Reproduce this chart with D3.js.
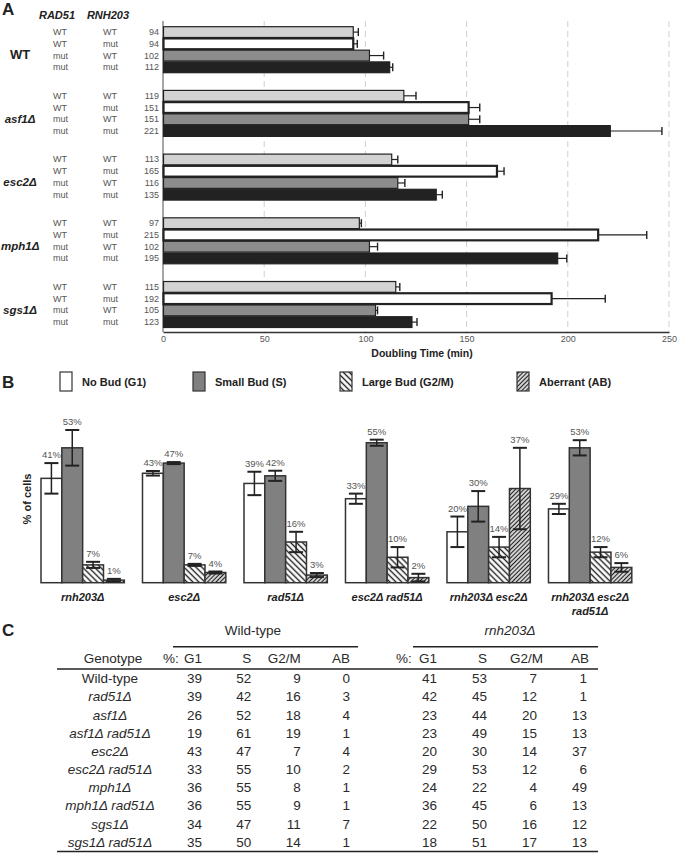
<!DOCTYPE html>
<html>
<head>
<meta charset="utf-8">
<script src="https://cdn.jsdelivr.net/npm/d3@7"></script>
<style>
  body { margin: 0; background: #fff; }
  svg { font-family: "Liberation Sans", Arial, sans-serif; display: block; }
</style>
</head>
<body>
<script>
// ---- panel A data ----
const groupsA = ['WT', 'asf1Δ', 'esc2Δ', 'mph1Δ', 'sgs1Δ'];
const rad51Status = ['WT', 'WT', 'mut', 'mut'];
const rnh203Status = ['WT', 'mut', 'WT', 'mut'];
const doublingTime = [
  [94, 94, 102, 112],
  [119, 151, 151, 221],
  [113, 165, 116, 135],
  [97, 215, 102, 195],
  [115, 192, 105, 123]
];
const doublingErr = [
  [2.5, 2, 7, 1.5],
  [6, 5.5, 5.5, 25.5],
  [3, 3.5, 3.5, 3],
  [1, 24, 4, 4.5],
  [2, 26.5, 1, 2.5]
];
const xTicksA = [0, 50, 100, 150, 200, 250];

// ---- panel B data ----
const strainsB = ['rnh203Δ', 'esc2Δ', 'rad51Δ', 'esc2Δ rad51Δ', 'rnh203Δ esc2Δ', 'rnh203Δ esc2Δ rad51Δ'];
const phases = ['No Bud (G1)', 'Small Bud (S)', 'Large Bud (G2/M)', 'Aberrant (AB)'];
const pctB = [
  [41, 53, 7, 1],
  [43, 47, 7, 4],
  [39, 42, 16, 3],
  [33, 55, 10, 2],
  [20, 30, 14, 37],
  [29, 53, 12, 6]
];
const errB = [
  [6, 7, 1.2, 0.5],
  [0.9, 0.4, 0.4, 0.4],
  [4.6, 2, 4, 0.8],
  [2, 1.2, 4, 1.5],
  [6, 6, 4, 16],
  [2, 3, 2, 1.7]
];

// ---- panel C data ----
const genotypesC = ['Wild-type', 'rad51Δ', 'asf1Δ', 'asf1Δ rad51Δ', 'esc2Δ', 'esc2Δ rad51Δ',
  'mph1Δ', 'mph1Δ rad51Δ', 'sgs1Δ', 'sgs1Δ rad51Δ'];
const phaseCols = ['G1', 'S', 'G2/M', 'AB'];
const wtPct = [
  [39, 52, 9, 0], [39, 42, 16, 3], [26, 52, 18, 4], [19, 61, 19, 1], [43, 47, 7, 4],
  [33, 55, 10, 2], [36, 55, 8, 1], [36, 55, 9, 1], [34, 47, 11, 7], [35, 50, 14, 1]
];
const rnhPct = [
  [41, 53, 7, 1], [42, 45, 12, 1], [23, 44, 20, 13], [23, 49, 15, 13], [20, 30, 14, 37],
  [29, 53, 12, 6], [24, 22, 4, 49], [36, 45, 6, 13], [22, 50, 16, 12], [18, 51, 17, 13]
];

const W = 677, H = 853;
const svg = d3.select('body').append('svg').attr('width', W).attr('height', H);

const defs = svg.append('defs');
function hatch(id, spacing, width, angle) {
  const p = defs.append('pattern').attr('id', id)
    .attr('patternUnits', 'userSpaceOnUse')
    .attr('width', spacing).attr('height', spacing)
    .attr('patternTransform', `rotate(${angle})`);
  p.append('rect').attr('width', spacing).attr('height', spacing).attr('fill', '#fff');
  p.append('line').attr('x1', spacing / 2).attr('x2', spacing / 2)
    .attr('y1', 0).attr('y2', spacing)
    .attr('stroke', '#222').attr('stroke-width', width);
}
hatch('hatchG2', 4.2, 1.4, -45);
hatch('hatchAB', 3, 1.4, 45);

const panelLetter = (t, y) => svg.append('text').attr('x', 2).attr('y', y)
  .attr('font-size', 17).attr('font-weight', 'bold').attr('fill', '#222').text(t);

// ================= Panel A =================
panelLetter('A', 15);

const xA = d3.scaleLinear().domain([0, 250]).range([163, 669]);
const gA = d3.scaleBand().domain(groupsA).range([26.7, 327.5]).paddingInner(0.278).paddingOuter(0);
const rA = d3.scaleBand().domain(d3.range(4)).range([0, gA.bandwidth()]).paddingInner(0.08);
const fillA = ['#d2d2d2', '#ffffff', '#8c8c8c', '#222222'];
const axisY = 332;

svg.append('text').attr('x', 57).attr('y', 19).attr('text-anchor', 'middle')
  .attr('font-size', 11).attr('font-weight', 'bold').attr('font-style', 'italic')
  .attr('fill', '#222').text('RAD51');
svg.append('text').attr('x', 108).attr('y', 19).attr('text-anchor', 'middle')
  .attr('font-size', 11).attr('font-weight', 'bold').attr('font-style', 'italic')
  .attr('fill', '#222').text('RNH203');

// gridlines
svg.append('g').selectAll('line').data(xTicksA.slice(1)).join('line')
  .attr('x1', d => xA(d)).attr('x2', d => xA(d))
  .attr('y1', 21).attr('y2', axisY)
  .attr('stroke', '#cfcfcf').attr('stroke-width', 1).attr('stroke-dasharray', '6,4');

svg.append('line').attr('x1', xA(0)).attr('x2', xA(0)).attr('y1', 21).attr('y2', axisY)
  .attr('stroke', '#8a8a8a').attr('stroke-width', 1.5);

const axA = svg.append('g').attr('transform', `translate(0,${axisY})`)
  .call(d3.axisBottom(xA).tickValues(xTicksA).tickSize(0).tickPadding(4));
axA.select('.domain').attr('stroke', '#333').attr('stroke-width', 1.5);
axA.selectAll('text').attr('font-size', 9).attr('fill', '#555')
  .attr('font-family', '"Liberation Sans", Arial, sans-serif');

svg.append('text').attr('x', 422).attr('y', 357).attr('text-anchor', 'middle')
  .attr('font-size', 10.5).attr('font-weight', 'bold').attr('fill', '#222')
  .text('Doubling Time (min)');

groupsA.forEach((g, gi) => {
  const grp = svg.append('g').attr('transform', `translate(0,${gA(g)})`);
  const rows = doublingTime[gi].map((v, i) => ({ v, i, e: doublingErr[gi][i] }));
  const rc = i => rA(i) + rA.bandwidth() / 2;

  const gl = grp.append('text').attr('y', rc(2) + 3.5)
    .attr('font-size', g === 'WT' ? 13 : 11.5).attr('font-weight', 'bold')
    .attr('font-style', g === 'WT' ? 'normal' : 'italic')
    .attr('fill', '#222').text(g);
  const gw = gl.node().getComputedTextLength();
  gl.attr('x', Math.max(1, 20 - gw / 2));

  grp.selectAll('text.rad').data(rows).join('text').attr('class', 'rad')
    .attr('x', 53).attr('y', d => rc(d.i) + 3)
    .attr('font-size', 9).attr('fill', '#555').text(d => rad51Status[d.i]);
  grp.selectAll('text.rnh').data(rows).join('text').attr('class', 'rnh')
    .attr('x', 103).attr('y', d => rc(d.i) + 3)
    .attr('font-size', 9).attr('fill', '#555').text(d => rnh203Status[d.i]);
  grp.selectAll('text.val').data(rows).join('text').attr('class', 'val')
    .attr('x', 159).attr('y', d => rc(d.i) + 3).attr('text-anchor', 'end')
    .attr('font-size', 9).attr('fill', '#555').text(d => d.v);

  // error bars
  grp.selectAll('line.err').data(rows).join('line').attr('class', 'err')
    .attr('x1', d => xA(d.v)).attr('x2', d => xA(d.v + d.e))
    .attr('y1', d => rc(d.i)).attr('y2', d => rc(d.i))
    .attr('stroke', '#222').attr('stroke-width', 1.2);
  grp.selectAll('line.cap').data(rows).join('line').attr('class', 'cap')
    .attr('x1', d => xA(d.v + d.e)).attr('x2', d => xA(d.v + d.e))
    .attr('y1', d => rc(d.i) - 4).attr('y2', d => rc(d.i) + 4)
    .attr('stroke', '#222').attr('stroke-width', 1.4);

  grp.selectAll('rect').data(rows).join('rect')
    .attr('x', xA(0) + 0.5).attr('y', d => rA(d.i))
    .attr('width', d => xA(d.v) - xA(0) - 0.5).attr('height', rA.bandwidth())
    .attr('fill', d => fillA[d.i])
    .attr('stroke', '#222').attr('stroke-width', d => d.i === 1 ? 2.2 : 1.2);
});

// ================= Panel B =================
panelLetter('B', 388);

const legendX = [60, 193, 340, 517];
const fillB = ['#ffffff', '#808080', 'url(#hatchG2)', 'url(#hatchAB)'];
const leg = svg.append('g').selectAll('g').data(phases).join('g')
  .attr('transform', (d, i) => `translate(${legendX[i]},372)`);
leg.append('rect').attr('width', 12).attr('height', 19)
  .attr('fill', (d, i) => fillB[i]).attr('stroke', '#333').attr('stroke-width', 1.2);
leg.append('text').attr('x', 22).attr('y', 14).attr('font-size', 11)
  .attr('font-weight', 'bold').attr('fill', '#222').text(d => d);

svg.append('text').attr('transform', 'translate(31,499) rotate(-90)')
  .attr('text-anchor', 'middle').attr('font-size', 11).attr('font-weight', 'bold')
  .attr('fill', '#222').text('% of cells');

const xB = d3.scaleBand().domain(strainsB).range([41, 631.8]).paddingInner(0.179).paddingOuter(0);
const pB = d3.scaleBand().domain(d3.range(4)).range([0, xB.bandwidth()]);
const yB = d3.scaleLinear().domain([0, 60]).range([582.7, 430]);

strainsB.forEach((s, si) => {
  const grp = svg.append('g').attr('transform', `translate(${xB(s)},0)`);
  const bars = pctB[si].map((v, i) => ({ v, i, e: errB[si][i] }));
  const cx = d => pB(d.i) + pB.bandwidth() / 2;

  grp.selectAll('rect').data(bars).join('rect')
    .attr('x', d => pB(d.i)).attr('y', d => yB(d.v))
    .attr('width', pB.bandwidth()).attr('height', d => yB(0) - yB(d.v))
    .attr('fill', d => fillB[d.i]).attr('stroke', '#333').attr('stroke-width', 1.5);

  grp.selectAll('line.ev').data(bars).join('line').attr('class', 'ev')
    .attr('x1', cx).attr('x2', cx)
    .attr('y1', d => yB(d.v + d.e)).attr('y2', d => yB(d.v - d.e))
    .attr('stroke', '#222').attr('stroke-width', 1.5);
  [1, -1].forEach(sgn => {
    grp.selectAll(`line.c${sgn}`).data(bars).join('line').attr('class', `c${sgn}`)
      .attr('x1', d => cx(d) - 7).attr('x2', d => cx(d) + 7)
      .attr('y1', d => yB(d.v + sgn * d.e)).attr('y2', d => yB(d.v + sgn * d.e))
      .attr('stroke', '#222').attr('stroke-width', 2);
  });

  grp.selectAll('text.pct').data(bars).join('text').attr('class', 'pct')
    .attr('x', cx).attr('y', d => yB(d.v + d.e) - 5).attr('text-anchor', 'middle')
    .attr('font-size', 9.5).attr('fill', '#555').text(d => d.v + '%');

  const words = s.split(' ');
  const lines = words.length > 2 ? [words.slice(0, 2).join(' '), words.slice(2).join(' ')] : [s];
  grp.selectAll('text.lab').data(lines).join('text').attr('class', 'lab')
    .attr('x', xB.bandwidth() / 2).attr('y', (d, i) => 601 + i * 13.5)
    .attr('text-anchor', 'middle').attr('font-size', 11).attr('font-weight', 'bold')
    .attr('font-style', 'italic').attr('fill', '#222').text(d => d);
});

// ================= Panel C =================
panelLetter('C', 636);

const rowY = d3.scaleLinear().domain([0, genotypesC.length - 1]).range([678.3, 841.7]);
const colWT = d3.scaleLinear().domain([0, 3]).range([202, 350]);
const colRnh = d3.scaleLinear().domain([0, 3]).range([437, 587]);
const fsC = 13.5;

const tbl = svg.append('g').attr('fill', '#2a2a2a').attr('font-size', fsC);

tbl.append('text').attr('x', 253).attr('y', 635).attr('text-anchor', 'middle').text('Wild-type');
tbl.append('text').attr('x', 510).attr('y', 635).attr('text-anchor', 'middle')
  .attr('font-style', 'italic').text('rnh203Δ');

const rule = (x1, x2, y) => tbl.append('line').attr('x1', x1).attr('x2', x2)
  .attr('y1', y).attr('y2', y).attr('stroke', '#222').attr('stroke-width', 1.5);
rule(173, 358, 646.7);
rule(413, 598, 646.7);
rule(57, 598, 669);
rule(57, 598, 851.5);

tbl.append('text').attr('x', 113).attr('y', 663).attr('text-anchor', 'middle').text('Genotype');
tbl.append('text').attr('x', 163).attr('y', 663).text('%:');
tbl.append('text').attr('x', 396).attr('y', 663).text('%:');
tbl.selectAll('text.hw').data(phaseCols).join('text').attr('class', 'hw')
  .attr('x', (d, i) => colWT(i)).attr('y', 663).attr('text-anchor', 'end').text(d => d);
tbl.selectAll('text.hr').data(phaseCols).join('text').attr('class', 'hr')
  .attr('x', (d, i) => colRnh(i) + (i === 2 ? 6 : i === 3 ? 2 : 0)).attr('y', 663)
  .attr('text-anchor', 'end').text(d => d);

tbl.selectAll('text.geno').data(genotypesC).join('text').attr('class', 'geno')
  .attr('x', 110).attr('y', (d, i) => rowY(i) + 5).attr('text-anchor', 'middle')
  .attr('font-style', d => d === 'Wild-type' ? 'normal' : 'italic').text(d => d);

const cells = [];
genotypesC.forEach((g, ri) => {
  phaseCols.forEach((p, ci) => {
    cells.push({ x: colWT(ci), r: ri, v: wtPct[ri][ci] });
    cells.push({ x: colRnh(ci), r: ri, v: rnhPct[ri][ci] });
  });
});
tbl.selectAll('text.cell').data(cells).join('text').attr('class', 'cell')
  .attr('x', d => d.x).attr('y', d => rowY(d.r) + 5).attr('text-anchor', 'end')
  .text(d => d.v);
</script>
</body>
</html>
